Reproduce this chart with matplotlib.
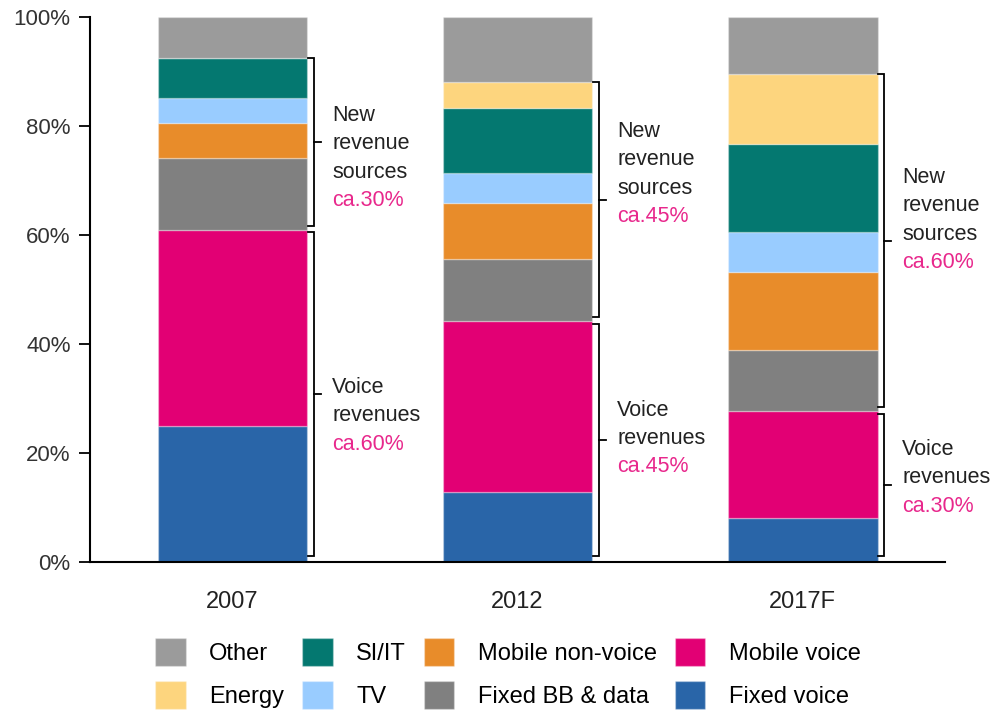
import matplotlib.pyplot as plt
import numpy as np

plt.rcParams['font.family'] = ['Liberation Sans', 'DejaVu Sans']

years = ['2007', '2012', '2017F']
segments = ['Fixed voice', 'Mobile voice', 'Fixed BB & data', 'Mobile non-voice',
            'TV', 'SI/IT', 'Energy', 'Other']
fixed_voice = [25.0, 12.8, 8.1]
mobile_voice = [36.0, 31.4, 19.6]
fixed_bb = [13.1, 11.4, 11.2]
mobile_nonvoice = [6.5, 10.3, 14.3]
tv = [4.5, 5.5, 7.4]
si_it = [7.4, 11.9, 16.1]
energy = [0.0, 4.8, 12.8]
other = [7.5, 11.9, 10.5]
colors = ['#2965a8', '#e20074', '#808080', '#e88c2a',
          '#99ccff', '#047870', '#fdd57e', '#9b9b9b']

new_labels = ['ca.30%', 'ca.45%', 'ca.60%']
voice_labels = ['ca.60%', 'ca.45%', 'ca.30%']
# y of the first text line for each annotation
new_text_y = [82.0, 79.1, 70.6]
voice_text_y = [32.1, 27.9, 20.7]

values = [fixed_voice, mobile_voice, fixed_bb, mobile_nonvoice, tv, si_it, energy, other]

fig = plt.figure(figsize=(9.92, 7.16), dpi=100)
ax = fig.add_axes([0.0907, 0.215, 0.862, 0.761])

x = np.arange(len(years))
width = 0.526
bottom = np.zeros(len(years))
bars = {}
for name, vals, c in zip(segments, values, colors):
    v = np.array(vals)
    bars[name] = ax.bar(x, v, width, bottom=bottom, color=c,
                        edgecolor=(1, 1, 1, 0.3), linewidth=1, label=name)
    bottom += v

ax.set_xlim(-0.5, 2.5)
ax.set_ylim(0, 100)
ax.set_yticks(np.arange(0, 101, 20))
ax.set_yticklabels([f'{t}%' for t in range(0, 101, 20)], fontsize=16, color='#333333')
ax.set_xticks(x)
ax.set_xticklabels(years, fontsize=17, color='#222222')
ax.tick_params(axis='x', length=0, pad=21)
ax.tick_params(axis='y', length=8, width=1.3, direction='out', pad=6)
for s in ['top', 'right']:
    ax.spines[s].set_visible(False)
ax.spines['left'].set_linewidth(1.5)
ax.spines['bottom'].set_linewidth(1.5)


def bracket(xc, y0, y1):
    bx = xc + 0.285
    ax.plot([bx - 0.02, bx, bx, bx - 0.02], [y1, y1, y0, y0], color='black', lw=1.3,
            solid_joinstyle='miter')
    ym = (y0 + y1) / 2
    ax.plot([bx, bx + 0.025], [ym, ym], color='black', lw=1.3)


def lines(tx, ty, items):
    for k, (txt, col) in enumerate(items):
        ax.annotate(txt, (tx, ty), xytext=(0, -20.5 * k), textcoords='offset points',
                    fontsize=15.5, color=col, va='center', ha='left')


pink = '#e8288c'
dark = '#222222'
for i in range(len(years)):
    vt = fixed_voice[i] + mobile_voice[i]
    nt = 100 - other[i]
    bracket(x[i], 1.2, vt - 0.5)
    bracket(x[i], vt + 0.7, nt)
    tx = x[i] + 0.35
    lines(tx, new_text_y[i], [('New', dark), ('revenue', dark), ('sources', dark),
                              (new_labels[i], pink)])
    lines(tx, voice_text_y[i], [('Voice', dark), ('revenues', dark),
                                (voice_labels[i], pink)])

order = ['Other', 'Energy', 'SI/IT', 'TV', 'Mobile non-voice', 'Fixed BB & data',
         'Mobile voice', 'Fixed voice']
handles = [bars[n][0] for n in order]
fig.legend(handles, order, loc='lower center', bbox_to_anchor=(0.512, -0.008), ncol=4,
           frameon=False, fontsize=17, handlelength=1.3, handleheight=1.45,
           handletextpad=1.0, columnspacing=0.75, labelspacing=0.62, borderpad=0.05)

fig.savefig('out.png', dpi=100)
